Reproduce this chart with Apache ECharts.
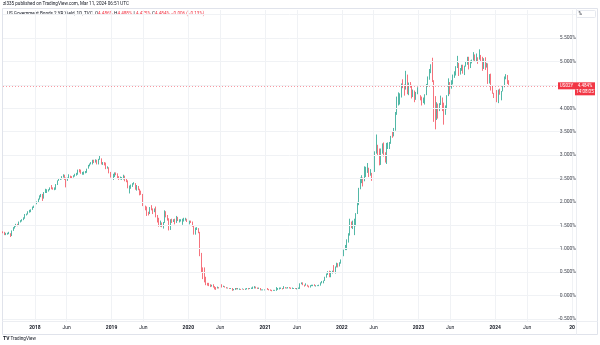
<!DOCTYPE html>
<html>
<head>
<meta charset="utf-8">
<script src="https://cdn.jsdelivr.net/npm/echarts@6/dist/echarts.min.js"></script>
<style>
  html, body { margin: 0; padding: 0; background: #ffffff; }
  #chart { width: 600px; height: 345px; }
</style>
</head>
<body>
<div id="chart"></div>
<script>
// US 2-year Treasury yield, weekly candles (mid-week date), Aug 2017 – Mar 2024
const symbolName = 'US02Y';
const lastPrice = 4.484;
const countdown = '14:08:05';
const firstWeek = '2017-08-02';
const firstOpen = 1.36;

const weeklyClose = [
  1.35,1.30,1.30,1.33,1.33,1.26,1.38,1.44,1.49,1.51,1.50,1.57,1.59,1.62,1.65,1.73,1.74,1.80,1.80,1.84,1.89,1.89,
  1.96,1.99,2.05,2.11,2.15,2.07,2.19,2.24,2.24,2.26,2.30,2.28,2.27,2.27,2.37,2.46,2.48,2.49,2.53,2.55,2.48,2.47,2.50,2.55,2.53,2.52,2.54,2.58,2.60,2.68,2.64,2.61,2.61,2.63,2.63,2.71,2.78,2.81,2.82,2.89,2.85,2.90,2.80,2.91,2.92,2.81,2.82,2.79,2.71,2.74,2.63,2.52,2.49,
  2.55,2.62,2.60,2.51,2.48,2.49,2.49,2.55,2.45,2.44,2.31,2.34,2.34,2.39,2.39,2.28,2.34,2.27,2.20,2.16,1.92,1.85,1.84,1.77,1.75,1.86,1.85,1.80,1.85,1.71,1.63,1.49,1.53,1.51,1.55,1.80,1.69,1.63,1.40,1.59,1.58,1.62,1.55,1.67,1.61,1.61,1.61,1.61,1.61,1.63,1.58,1.56,
  1.57,1.56,1.49,1.31,1.40,1.42,1.35,0.91,0.50,0.49,0.32,0.24,0.23,0.22,0.20,0.21,0.19,0.16,0.15,0.17,0.16,0.22,0.19,0.19,0.17,0.16,0.16,0.15,0.15,0.11,0.13,0.15,0.14,0.14,0.14,0.13,0.14,0.13,0.13,0.15,0.14,0.15,0.15,0.16,0.18,0.16,0.15,0.15,0.12,0.12,0.12,0.12,
  0.14,0.13,0.12,0.11,0.10,0.11,0.11,0.13,0.14,0.15,0.15,0.14,0.18,0.16,0.16,0.17,0.16,0.15,0.15,0.15,0.14,0.15,0.15,0.25,0.27,0.23,0.21,0.22,0.20,0.19,0.21,0.21,0.22,0.21,0.21,0.21,0.22,0.27,0.27,0.32,0.39,0.45,0.50,0.40,0.51,0.51,0.50,0.59,0.66,0.64,0.70,0.73,
  0.87,0.97,1.01,1.16,1.31,1.50,1.47,1.50,1.50,1.75,1.94,2.28,2.44,2.52,2.46,2.72,2.72,2.73,2.59,2.60,2.48,2.66,3.06,3.18,3.05,2.84,3.12,3.13,2.99,2.88,3.23,3.25,3.25,3.40,3.39,3.56,3.87,4.20,4.28,4.31,4.50,4.48,4.41,4.66,4.34,4.53,4.47,4.28,4.34,4.18,4.33,4.43,
  4.25,4.22,4.18,4.20,4.29,4.49,4.62,4.81,4.86,4.59,3.84,3.77,4.03,3.97,4.09,4.18,4.04,3.92,3.99,4.27,4.55,4.50,4.59,4.71,4.74,4.87,4.94,4.74,4.84,4.88,4.76,4.89,4.94,5.08,4.87,4.99,5.03,5.10,5.04,5.08,5.05,5.07,5.00,4.84,5.06,4.89,4.95,4.54,4.72,4.44,4.32,4.23,
  4.38,4.14,4.39,4.35,4.36,4.48,4.64,4.69,4.53,4.478,4.484
];

const weeklyHigh = [
  1.37,1.36,1.34,1.34,1.36,1.33,1.39,1.46,1.49,1.53,1.53,1.58,1.61,1.63,1.67,1.74,1.75,1.80,1.83,1.84,1.90,1.92,
  1.97,2.01,2.07,2.14,2.17,2.17,2.21,2.28,2.27,2.27,2.31,2.36,2.31,2.31,2.38,2.46,2.50,2.51,2.55,2.59,2.58,2.52,2.52,2.59,2.56,2.55,2.57,2.60,2.62,2.69,2.70,2.69,2.64,2.65,2.66,2.71,2.79,2.82,2.85,2.90,2.90,2.91,2.90,2.92,2.98,2.93,2.85,2.85,2.84,2.76,2.74,2.64,2.56,
  2.60,2.63,2.63,2.61,2.55,2.54,2.53,2.58,2.56,2.49,2.46,2.35,2.37,2.40,2.42,2.40,2.36,2.34,2.28,2.24,2.17,1.94,1.92,1.90,1.79,1.89,1.93,1.86,1.86,1.90,1.72,1.66,1.60,1.56,1.57,1.82,1.80,1.72,1.65,1.63,1.64,1.63,1.64,1.70,1.68,1.63,1.63,1.64,1.66,1.66,1.64,1.62,
  1.60,1.60,1.58,1.50,1.45,1.46,1.44,1.36,0.91,0.60,0.60,0.40,0.27,0.27,0.24,0.23,0.24,0.20,0.18,0.19,0.18,0.24,0.24,0.21,0.20,0.18,0.17,0.16,0.16,0.16,0.14,0.16,0.16,0.16,0.15,0.14,0.15,0.14,0.15,0.16,0.16,0.16,0.17,0.19,0.20,0.19,0.17,0.17,0.16,0.13,0.13,0.13,
  0.15,0.16,0.14,0.13,0.12,0.12,0.12,0.18,0.16,0.17,0.17,0.16,0.20,0.18,0.17,0.18,0.18,0.17,0.17,0.16,0.16,0.16,0.17,0.26,0.28,0.28,0.23,0.26,0.23,0.21,0.22,0.23,0.23,0.24,0.22,0.22,0.23,0.28,0.31,0.32,0.40,0.47,0.52,0.53,0.52,0.53,0.65,0.62,0.70,0.69,0.71,0.77,
  0.89,0.98,1.08,1.20,1.33,1.64,1.58,1.60,1.64,1.76,2.00,2.30,2.52,2.57,2.52,2.76,2.75,2.83,2.73,2.70,2.62,2.70,3.08,3.44,3.22,3.14,3.14,3.25,3.27,3.06,3.26,3.27,3.28,3.41,3.51,3.58,3.92,4.25,4.34,4.32,4.53,4.62,4.51,4.80,4.72,4.55,4.56,4.50,4.40,4.38,4.35,4.45,
  4.48,4.28,4.25,4.23,4.30,4.52,4.68,4.84,4.94,5.08,4.60,4.26,4.13,4.10,4.11,4.27,4.23,4.12,4.06,4.28,4.64,4.56,4.60,4.72,4.79,4.90,5.12,4.97,4.86,4.93,4.93,4.91,5.00,5.10,5.10,5.02,5.04,5.20,5.15,5.17,5.09,5.26,5.14,5.10,5.07,5.09,4.97,4.96,4.73,4.74,4.48,4.33,
  4.45,4.39,4.40,4.42,4.37,4.49,4.68,4.73,4.71,4.60,4.488
];

const weeklyLow = [
  1.33,1.29,1.29,1.30,1.31,1.25,1.27,1.38,1.43,1.47,1.48,1.50,1.56,1.58,1.61,1.64,1.71,1.73,1.77,1.78,1.83,1.87,
  1.88,1.95,1.98,2.05,2.10,2.02,2.07,2.19,2.19,2.22,2.25,2.27,2.26,2.25,2.26,2.36,2.45,2.47,2.48,2.52,2.47,2.31,2.45,2.49,2.51,2.49,2.52,2.54,2.56,2.58,2.63,2.60,2.58,2.58,2.61,2.62,2.71,2.76,2.80,2.80,2.83,2.84,2.80,2.80,2.90,2.80,2.79,2.78,2.70,2.71,2.61,2.52,2.37,
  2.47,2.53,2.57,2.49,2.47,2.48,2.47,2.48,2.44,2.42,2.29,2.18,2.28,2.32,2.37,2.26,2.24,2.25,2.14,2.15,1.91,1.81,1.82,1.70,1.71,1.74,1.82,1.74,1.78,1.67,1.56,1.47,1.47,1.46,1.43,1.55,1.67,1.60,1.39,1.40,1.55,1.57,1.52,1.55,1.59,1.56,1.58,1.51,1.58,1.60,1.57,1.50,
  1.52,1.55,1.47,1.30,1.30,1.40,1.33,0.84,0.48,0.35,0.28,0.22,0.21,0.20,0.18,0.19,0.17,0.13,0.12,0.15,0.15,0.15,0.17,0.18,0.17,0.15,0.15,0.14,0.14,0.10,0.11,0.12,0.13,0.13,0.12,0.12,0.13,0.12,0.12,0.13,0.13,0.14,0.14,0.14,0.15,0.15,0.14,0.14,0.11,0.11,0.11,0.11,
  0.11,0.12,0.11,0.10,0.09,0.10,0.10,0.10,0.12,0.13,0.14,0.13,0.14,0.15,0.15,0.15,0.15,0.14,0.14,0.14,0.14,0.13,0.14,0.14,0.24,0.22,0.19,0.21,0.19,0.17,0.17,0.20,0.20,0.20,0.19,0.20,0.20,0.21,0.26,0.26,0.31,0.38,0.44,0.39,0.39,0.47,0.49,0.47,0.60,0.60,0.62,0.68,
  0.73,0.84,0.97,0.97,1.13,1.28,1.44,1.42,1.29,1.48,1.74,1.93,2.27,2.40,2.33,2.44,2.53,2.62,2.53,2.56,2.45,2.47,2.64,3.03,2.98,2.78,2.79,3.03,2.97,2.84,2.81,3.13,3.13,3.24,3.37,3.40,3.52,3.86,4.06,4.08,4.23,4.43,4.27,4.40,4.30,4.28,4.44,4.21,4.24,4.13,4.18,4.30,
  4.23,4.17,4.06,4.11,4.08,4.28,4.46,4.61,4.75,4.56,3.71,3.55,3.75,3.78,3.94,4.07,3.94,3.65,3.86,3.98,4.26,4.30,4.42,4.51,4.65,4.70,4.86,4.69,4.72,4.80,4.74,4.71,4.89,4.93,4.83,4.86,4.96,5.02,5.01,5.01,4.95,5.04,4.99,4.80,4.84,4.82,4.87,4.52,4.53,4.38,4.31,4.22,
  4.23,4.13,4.11,4.29,4.17,4.36,4.45,4.62,4.52,4.47,4.475
];

// date-axis ticks (the last one sits at the clipped right edge)
const timeTickDates = [
  '2018-01-01','2018-06-01','2019-01-01','2019-06-01','2020-01-01','2020-06-01','2021-01-01','2021-06-01',
  '2022-01-01','2022-06-01','2023-01-01','2023-06-01','2024-01-01','2024-06-01','2025-01-01'
];
const timeTickLabels = [
  '2018','Jun','2019','Jun','2020','Jun','2021','Jun','2022','Jun','2023','Jun','2024','Jun','20'
];
const axisStart = '2017-08-02';
const axisEnd = '2025-01-20';

// price-scale ticks and visible range
const priceTicks = [-0.5, 0, 0.5, 1, 1.5, 2, 2.5, 3, 3.5, 4, 4.5, 5, 5.5, 6];
const hiddenPriceLabels = [4.5, 6];
const priceMin = -0.545;
const priceMax = 6.1;

const headerLine1 = 'zl335 published on TradingView.com, Mar 11, 2024 06:51 UTC';
const headerTitle = 'US Government Bonds 2 YR Yield, 1D, TVC';
const headerOHLC = [['O', '4.486%'], ['H', '4.488%'], ['L', '4.475%'], ['C', '4.484%']];
const headerChange = '\u22120.006 (\u22120.13%)';

const UP = '#089981';
const DOWN = '#f23645';
const TXT = '#131722';
const GRIDC = '#f0f2f5';
const FONT = 'Roboto, Arial, sans-serif';
const HFS = 4.6;

const DAY = 86400000;
const toMs = d => Date.parse(d + 'T00:00:00Z');
const t0 = toMs(firstWeek);
const candles = weeklyClose.map((c, i) => {
  const open = i === 0 ? firstOpen : weeklyClose[i - 1];
  return [t0 + i * 7 * DAY, open, c, weeklyLow[i], weeklyHigh[i]];
});

const tickTimes = timeTickDates.map(toMs);

const chart = echarts.init(document.getElementById('chart'), null, { renderer: 'canvas' });

const headerLine2 = '{k|' + headerTitle + '\u00a0\u00a0}' +
  headerOHLC.map(p => '{k|' + p[0] + '}{r|' + p[1] + '}').join('{k|\u00a0}') +
  '{r|\u00a0' + headerChange + '}';

const fmtPrice = v => (v < 0 ? '-' : '') + Math.abs(v).toFixed(3) + '%';

// grid lines at the date ticks and the price ticks
const vGrid = tickTimes.map(t => ({ xAxis: t }));
const hGrid = priceTicks.map(p => ({ yAxis: p }));

// price-scale labels: one invisible point per tick at the right edge, labelled
const priceLabelData = priceTicks
  .filter(p => !hiddenPriceLabels.some(h => Math.abs(p - h) < 1e-9))
  .map(p => [toMs(axisEnd), p]);

chart.setOption({
  animation: false,
  backgroundColor: '#ffffff',
  grid: { left: 3, right: 24, top: 10, bottom: 24, containLabel: false },
  xAxis: {
    type: 'value',
    min: toMs(axisStart),
    max: toMs(axisEnd),
    axisLine: { show: false },
    axisTick: { show: false },
    splitLine: { show: false },
    axisLabel: {
      customValues: tickTimes,
      margin: 4.5,
      fontSize: 5,
      fontWeight: 'bold',
      color: TXT,
      fontFamily: FONT,
      formatter: function (v) {
        const i = tickTimes.indexOf(+v);
        const s = i >= 0 ? timeTickLabels[i] : '';
        return /^\d/.test(s) ? s : '{m|' + s + '}';
      },
      rich: { m: { fontSize: 5, fontWeight: 'normal', color: TXT, fontFamily: FONT } }
    }
  },
  yAxis: {
    type: 'value',
    position: 'right',
    min: priceMin,
    max: priceMax,
    axisLine: { show: false },
    axisTick: { show: false },
    splitLine: { show: false },
    axisLabel: { show: false }
  },
  series: [{
    type: 'line',
    data: [],
    silent: true,
    markLine: {
      silent: true,
      symbol: ['none', 'none'],
      animation: false,
      label: { show: false },
      lineStyle: { color: GRIDC, type: 'solid', width: 1 },
      data: vGrid.concat(hGrid)
    }
  }, {
    type: 'scatter',
    data: priceLabelData,
    symbolSize: 0,
    silent: true,
    clip: false,
    z: 20,
    labelLayout: { hideOverlap: false },
    label: {
      show: true,
      position: 'right',
      distance: 0,
      offset: [23, 0],
      align: 'right',
      fontSize: 5,
      color: TXT,
      fontFamily: FONT,
      formatter: p => fmtPrice(p.value[1])
    }
  }, {
    type: 'candlestick',
    data: candles,
    encode: { x: 0, y: [1, 2, 3, 4] },
    barWidth: 0.5,
    itemStyle: {
      color: UP, color0: DOWN,
      borderColor: UP, borderColor0: DOWN,
      borderWidth: 0.7
    },
    clip: true,
    markLine: {
      silent: true,
      symbol: ['none', 'none'],
      animation: false,
      lineStyle: { color: 'rgba(242,54,69,0.5)', type: [1, 2], width: 1 },
      label: {
        show: true,
        position: 'end',
        distance: -18,
        lineHeight: 6,
        formatter: '{z|}\n{n|' + symbolName + '}{v|' + lastPrice.toFixed(3) + '%}\n{s|}{t|' + countdown + '}',
        rich: {
          z: { height: 6, lineHeight: 6 },
          n: { backgroundColor: DOWN, color: '#fff', fontSize: 4.5, width: 17, height: 7, lineHeight: 7, align: 'center', fontFamily: FONT },
          v: { backgroundColor: DOWN, color: '#fff', fontSize: 4.5, width: 20, height: 7, lineHeight: 7, align: 'center', fontFamily: FONT },
          s: { width: 17, height: 6, lineHeight: 6 },
          t: { backgroundColor: DOWN, color: '#fff', fontSize: 4.5, width: 20, height: 6, lineHeight: 6, align: 'center', fontFamily: FONT }
        }
      },
      data: [{ yAxis: lastPrice }]
    }
  }],
  graphic: [
    // frame and separators
    { type: 'rect', z: 0, silent: true, shape: { x: 2.5, y: 8.5, width: 595, height: 326 }, style: { fill: 'none', stroke: '#e0e3eb', lineWidth: 1 } },
    { type: 'line', z: 0, silent: true, shape: { x1: 2.5, y1: 321.5, x2: 597.5, y2: 321.5 }, style: { stroke: '#eceef2', lineWidth: 1 } },
    { type: 'line', z: 0, silent: true, shape: { x1: 576.5, y1: 8.5, x2: 576.5, y2: 334.5 }, style: { stroke: '#eceef2', lineWidth: 1 } },
    // header
    { type: 'text', silent: true, left: 3, top: 1.5, style: { text: headerLine1, fontSize: HFS, fill: TXT, fontFamily: FONT } },
    { type: 'text', silent: true, left: 7, top: 11.5, style: {
        text: headerLine2,
        fontSize: HFS, fill: TXT, fontFamily: FONT,
        rich: { k: { fontSize: HFS, fill: TXT, fontFamily: FONT }, r: { fontSize: HFS, fill: DOWN, fontFamily: FONT } }
    } },
    // unit box
    { type: 'rect', silent: true, shape: { x: 576.5, y: 10.5, width: 19, height: 7, r: 1 }, style: { fill: '#ffffff', stroke: '#e0e3eb', lineWidth: 0.8 } },
    { type: 'text', silent: true, left: 578.5, top: 11.5, style: { text: '%', fontSize: HFS, fill: TXT, fontFamily: FONT } },
    // footer
    { type: 'text', silent: true, left: 3, top: 336.5, style: { text: '{b|TV}\u00a0TradingView', fontSize: HFS, fill: TXT, fontFamily: FONT, rich: { b: { fontSize: 5, fontWeight: 'bold', fill: TXT, fontFamily: FONT } } } }
  ]
});
</script>
</body>
</html>
